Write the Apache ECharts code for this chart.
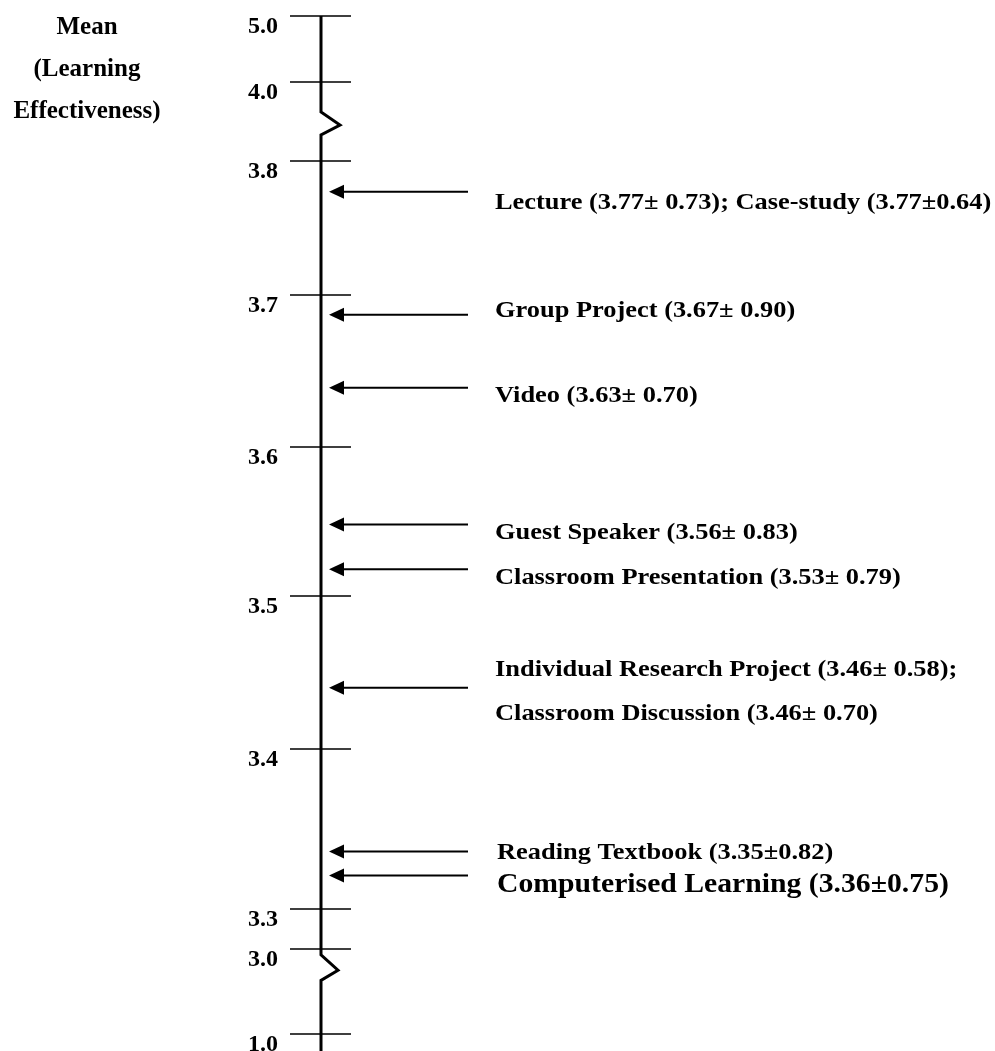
<!DOCTYPE html>
<html><head><meta charset="utf-8">
<script src="https://cdn.jsdelivr.net/npm/echarts@6.0.0/dist/echarts.min.js"></script>
<style>html,body{margin:0;padding:0;background:#fff}#chart{width:995px;height:1051px}</style>
</head><body><div id="chart"></div>
<script>
// ---------- data ----------
const tickValues = [5.0, 4.0, 3.8, 3.7, 3.6, 3.5, 3.4, 3.3, 3.0, 1.0];
const tickLabels = ['5.0', '4.0', '3.8', '3.7', '3.6', '3.5', '3.4', '3.3', '3.0', '1.0'];
const methodLabels = [
  'Lecture (3.77\u00b1 0.73); Case-study (3.77\u00b10.64)',
  'Group Project (3.67\u00b1 0.90)',
  'Video (3.63\u00b1 0.70)',
  'Guest Speaker (3.56\u00b1 0.83)',
  'Classroom Presentation (3.53\u00b1 0.79)',
  'Individual Research Project (3.46\u00b1 0.58);\nClassroom Discussion (3.46\u00b1 0.70)',
  'Reading Textbook (3.35\u00b10.82)',
  'Computerised Learning (3.36\u00b10.75)'
];
// arrow positions as plotted on the figure's axis
const arrowMeans = [3.777, 3.687, 3.639, 3.548, 3.518, 3.440, 3.336, 3.321];
const axisBreaks = [[4.0, 3.8], [3.0, 1.0]];
const titleText = 'Mean\n(Learning\nEffectiveness)';

// ---------- layout / style ----------
const segmentLengths = [66, 79, 134, 152, 149, 153, 160, 40, 85]; // drawn length of each tick interval
const tailLength = 17;
const breakShapes = [
  {start: 0.38, peak: 0.545, end: 0.67, dx: 19},
  {start: 0.07, peak: 0.25, end: 0.37, dx: 17}
];
const labelDy = [11, -4, 8, 8, 9, 4, 1, 10];
const labelDx = [174, 174, 174, 174, 174, 174, 176, 176];
const labelSize = [24, 24, 24, 24, 24, 24, 24, 27];
const FONT = '"Liberation Serif","Times New Roman",serif';

const cum = [0];
segmentLengths.forEach((l, i) => cum.push(cum[i] + l));
const dispMax = cum[cum.length - 1] + tailLength;

function toDisp(v) {
  for (let i = 0; i < tickValues.length - 1; i++) {
    const a = tickValues[i], b = tickValues[i + 1];
    if (v <= a && v >= b) return cum[i] + (a - v) / (a - b) * segmentLengths[i];
  }
  return v > tickValues[0] ? 0 : dispMax;
}
const tickDisp = tickValues.map(toDisp);
function dispToLabel(d) {
  let best = 0;
  tickDisp.forEach((t, i) => { if (Math.abs(t - d) < Math.abs(tickDisp[best] - d)) best = i; });
  return tickLabels[best];
}

const chart = echarts.init(document.getElementById('chart'));
const option = {
  backgroundColor: '#fff',
  animation: false,
  title: {
    text: titleText, left: 87, top: 7, textAlign: 'center', padding: 0,
    textStyle: {fontFamily: FONT, fontWeight: 'bold', fontSize: 25, lineHeight: 42, color: '#000'}
  },
  grid: {left: 321, right: 0, top: 16, bottom: 0, containLabel: false, outerBoundsMode: 'none'},
  xAxis: {type: 'value', min: 0, max: 1, show: false},
  yAxis: [
    {
      type: 'value', inverse: true, min: 0, max: dispMax, position: 'left',
      axisLine: {show: false}, splitLine: {show: false},
      axisTick: {show: true, customValues: tickDisp, length: 31, lineStyle: {color: '#000', width: 1.5}},
      axisLabel: {
        show: true, customValues: tickDisp, margin: 43, verticalAlign: 'top',
        fontFamily: FONT, fontWeight: 'bold', fontSize: 24, color: '#000', lineHeight: 22,
        formatter: v => dispToLabel(v)
      }
    },
    {
      type: 'value', inverse: true, min: 0, max: dispMax, position: 'left',
      axisLine: {show: false}, splitLine: {show: false}, axisLabel: {show: false},
      axisTick: {show: true, inside: true, customValues: tickDisp, length: 30, lineStyle: {color: '#000', width: 1.5}}
    }
  ],
  series: [
    {
      type: 'custom', name: 'axis', yAxisIndex: 0, silent: true,
      data: [[0, 0]],
      renderItem: function (params, api) {
        const pts = [api.coord([0, 0])];
        axisBreaks.forEach((br, i) => {
          const s = breakShapes[i];
          const f = fr => toDisp(br[0] - (br[0] - br[1]) * fr);
          const p0 = api.coord([0, f(s.start)]);
          const p1 = api.coord([0, f(s.peak)]);
          const p2 = api.coord([0, f(s.end)]);
          pts.push(p0, [p1[0] + s.dx, p1[1]], p2);
        });
        pts.push(api.coord([0, dispMax]));
        return {type: 'polyline', shape: {points: pts},
          style: {stroke: '#000', lineWidth: 3, fill: null, lineJoin: 'miter'}};
      }
    },
    {
      type: 'custom', name: 'methods', yAxisIndex: 0, silent: true,
      data: arrowMeans.map((m, i) => [0, toDisp(m), i]),
      renderItem: function (params, api) {
        const i = api.value(2);
        const p = api.coord([0, api.value(1)]);
        const x = p[0], y = p[1];
        return {
          type: 'group',
          children: [
            {type: 'line', shape: {x1: x + 18, y1: y, x2: x + 147, y2: y}, style: {stroke: '#000', lineWidth: 2}},
            {type: 'polygon', shape: {points: [[x + 8, y], [x + 23, y - 7], [x + 23, y + 7]]}, style: {fill: '#000'}},
            {type: 'text', x: x + labelDx[i], y: y + labelDy[i], scaleX: 1.1,
              style: {text: methodLabels[i], fill: '#000', font: 'bold ' + labelSize[i] + 'px ' + FONT,
                lineHeight: 44, align: 'left', verticalAlign: 'middle'}}
          ]
        };
      }
    }
  ]
};
chart.setOption(option);
</script>
</body></html>
